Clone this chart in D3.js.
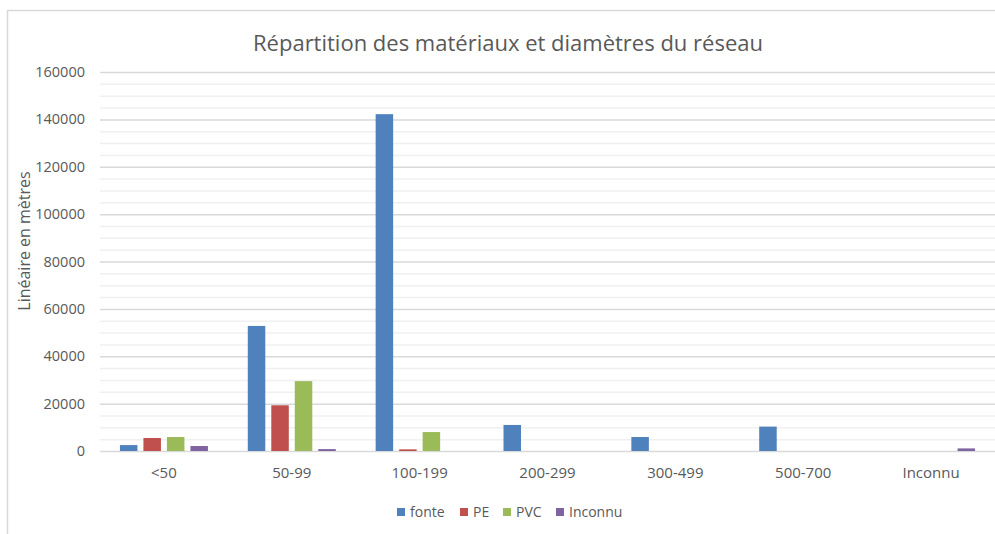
<!DOCTYPE html>
<html lang="fr">
<head>
<meta charset="UTF-8" />
<title>Répartition des matériaux</title>
<script src="https://cdn.jsdelivr.net/npm/d3@7"></script>
<style>
  body { margin: 0; background: #fff; }
  text { font-family: "Open Sans", "Noto Sans", sans-serif; fill: #595959; }
</style>
</head>
<body>
<svg id="chart" width="995" height="534"></svg>
<script>
  // data
  let categories = ["<50", "50-99", "100-199", "200-299", "300-499", "500-700", "Inconnu"];
  let seriesNames = ["fonte", "PE", "PVC", "Inconnu"];
  let colors = ["#4f81bd", "#c0504d", "#9bbb59", "#8064a2"];
  let fonte = [2500, 52800, 142200, 11000, 5900, 10300, 0];
  let pe = [5500, 19300, 700, 0, 0, 0, 0];
  let pvc = [5900, 29500, 8000, 0, 0, 0, 0];
  let inconnu = [2100, 800, 0, 0, 0, 0, 1100];
  let yTicks = [0, 20000, 40000, 60000, 80000, 100000, 120000, 140000, 160000];

  let values = [fonte, pe, pvc, inconnu];
  let svg = d3.select("#chart");

  // chart frame
  svg.append("path")
    .attr("d", "M7.5,534 V10.5 H995")
    .attr("fill", "none")
    .attr("stroke", "#d9d9d9")
    .attr("stroke-width", 1.5);

  let plotLeft = 100, plotRight = 995, plotTop = 72, plotBottom = 451;
  let groupW = 88;

  let x = d3.scaleBand().domain(categories).range([plotLeft, plotRight]);
  let xs = d3.scaleBand().domain(seriesNames).range([0, groupW]).paddingInner(0.255);
  let y = d3.scaleLinear().domain([0, 160000]).range([plotBottom, plotTop]);

  // minor gridlines every 5000
  svg.append("g").selectAll("line")
    .data(d3.range(5000, 160000, 5000).filter(v => v % 20000 != 0))
    .join("line")
    .attr("x1", plotLeft).attr("x2", plotRight)
    .attr("y1", d => y(d) + 0.5).attr("y2", d => y(d) + 0.5)
    .attr("stroke", "#f0f0f0").attr("stroke-width", 1.5);

  // major gridlines
  svg.append("g").selectAll("line")
    .data(yTicks)
    .join("line")
    .attr("x1", plotLeft).attr("x2", plotRight)
    .attr("y1", d => y(d) + 0.5).attr("y2", d => y(d) + 0.5)
    .attr("stroke", "#d9d9d9").attr("stroke-width", 1.5);

  // y tick labels
  svg.append("g").selectAll("text")
    .data(yTicks)
    .join("text")
    .attr("x", 85)
    .attr("y", d => y(d) + 5)
    .attr("text-anchor", "end")
    .style("font-size", "14.5px")
    .text(d => d);

  // bars
  seriesNames.forEach(function (name, i) {
    svg.append("g").selectAll("rect")
      .data(values[i].map((v, j) => ({ cat: categories[j], v: v })).filter(d => d.v > 0))
      .join("rect")
      .attr("x", d => x(d.cat) + (x.bandwidth() - groupW) / 2 + xs(name))
      .attr("width", xs.bandwidth())
      .attr("y", d => y(d.v))
      .attr("height", d => plotBottom - y(d.v))
      .attr("fill", colors[i]);
  });

  // x labels
  svg.append("g").selectAll("text")
    .data(categories)
    .join("text")
    .attr("x", d => x(d) + x.bandwidth() / 2)
    .attr("y", 478)
    .attr("text-anchor", "middle")
    .style("font-size", "15px")
    .text(d => d);

  // title
  svg.append("text")
    .attr("x", 508)
    .attr("y", 51)
    .attr("text-anchor", "middle")
    .style("font-size", "22px")
    .text("Répartition des matériaux et diamètres du réseau");

  // y axis title
  svg.append("text")
    .attr("transform", "translate(30,241) rotate(-90)")
    .attr("text-anchor", "middle")
    .style("font-size", "16px")
    .text("Linéaire en mètres");

  // legend
  let legendX = [397, 460, 503, 556];
  let legend = svg.append("g").selectAll("g")
    .data(seriesNames)
    .join("g")
    .attr("transform", (d, i) => "translate(" + legendX[i] + ",512)");
  legend.append("rect")
    .attr("x", 0).attr("y", -4)
    .attr("width", 8).attr("height", 8)
    .attr("fill", (d, i) => colors[i]);
  legend.append("text")
    .attr("x", 13).attr("y", 5)
    .style("font-size", "14px")
    .text(d => d);
</script>
</body>
</html>
